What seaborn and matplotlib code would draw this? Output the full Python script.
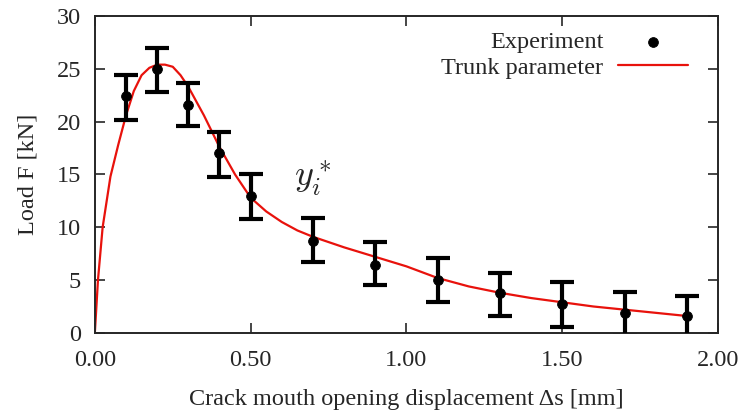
import numpy as np
import pandas as pd
import seaborn as sns
import matplotlib.pyplot as plt

# experiment points with error bars
exp_x = [0.1, 0.2, 0.3, 0.4, 0.5, 0.7, 0.9, 1.1, 1.3, 1.5, 1.7, 1.9]
exp_y = [22.4, 25.0, 21.6, 17.0, 13.0, 8.7, 6.4, 5.0, 3.8, 2.7, 1.9, 1.6]
exp_lo = [20.2, 22.8, 19.6, 14.8, 10.8, 6.7, 4.5, 2.9, 1.6, 0.6, -0.3, -0.7]
exp_hi = [24.4, 27.0, 23.7, 19.0, 15.0, 10.9, 8.6, 7.1, 5.7, 4.8, 3.9, 3.5]

# fitted curve
fit_x = [0.0, 0.01, 0.025, 0.05, 0.075, 0.1, 0.125, 0.15, 0.175, 0.2, 0.225, 0.25,
         0.275, 0.3, 0.35, 0.4, 0.45, 0.5, 0.55, 0.6, 0.65, 0.7, 0.8, 0.9, 1.0,
         1.1, 1.2, 1.3, 1.4, 1.5, 1.6, 1.7, 1.8, 1.9]
fit_y = [0.0, 5.0, 10.0, 14.8, 17.8, 20.6, 22.9, 24.4, 25.1, 25.4, 25.4, 25.2,
         24.4, 23.3, 20.6, 17.6, 15.0, 12.8, 11.5, 10.5, 9.7, 9.1, 8.1, 7.2, 6.3,
         5.2, 4.4, 3.8, 3.3, 2.9, 2.5, 2.2, 1.9, 1.6]

sns.set_style("ticks")
plt.rcParams['font.family'] = ['Liberation Serif', 'DejaVu Serif']
plt.rcParams['mathtext.fontset'] = 'cm'

fig = plt.figure(figsize=(7.41, 4.12), dpi=100)
ax = fig.add_axes([0.128, 0.192, 0.841, 0.769])

df_fit = pd.DataFrame({'x': fit_x, 'y': fit_y})
df_exp = pd.DataFrame({'x': exp_x, 'y': exp_y})

yerr = [np.array(exp_y) - np.array(exp_lo), np.array(exp_hi) - np.array(exp_y)]
ax.errorbar(exp_x, exp_y, yerr=yerr, fmt='none', ecolor='black', elinewidth=3,
            capsize=8.3, capthick=3, zorder=3)
sns.scatterplot(data=df_exp, x='x', y='y', color='black', s=50, edgecolor='black',
                ax=ax, label='Experiment', zorder=4)
sns.lineplot(data=df_fit, x='x', y='y', color='#e8120c', linewidth=1.6, ax=ax,
             label='Trunk parameter', zorder=2)

ax.text(0.64, 13.8, r'$y_i^*$', fontsize=26)

ax.set_xlim(0, 2.0)
ax.set_ylim(0, 30)
ax.set_xticks([0, 0.5, 1.0, 1.5, 2.0])
ax.set_xticklabels(['0.00', '0.50', '1.00', '1.50', '2.00'])
ax.set_yticks(range(0, 31, 5))
ax.tick_params(direction='in', top=True, right=True, length=7, width=1.2,
               labelsize=17.5)
ax.tick_params(axis='x', pad=12)
ax.tick_params(axis='y', pad=10)
for s in ax.spines.values():
    s.set_linewidth(1.4)
    s.set_visible(True)
ax.set_xlabel('Crack mouth opening displacement Δs [mm]', fontsize=17.5, labelpad=13)
ax.set_ylabel('Load F [kN]', fontsize=17.5, labelpad=13)

ax.legend(loc='upper right', frameon=False, markerfirst=False, fontsize=17.5,
          handlelength=2.9, handletextpad=0.6, borderaxespad=0.2, borderpad=0.2,
          labelspacing=0.15, bbox_to_anchor=(0.968, 0.983))

fig.savefig('out.png', dpi=100)
